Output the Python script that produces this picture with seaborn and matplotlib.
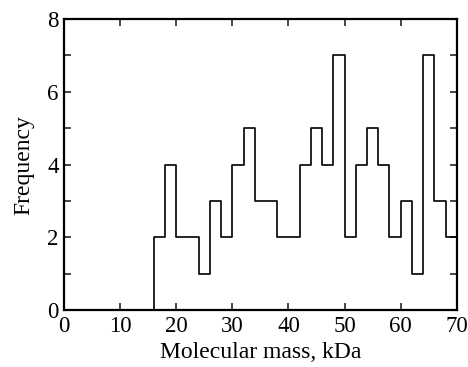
import numpy as np
import pandas as pd
import matplotlib
matplotlib.use("Agg")
import matplotlib.pyplot as plt
import seaborn as sns
from matplotlib.ticker import MultipleLocator

sns.set_style("ticks")
plt.rcParams["font.family"] = ["Liberation Serif", "DejaVu Serif"]

# bins of 2 kDa, from 16 to 70
bin_left = np.arange(16, 70, 2)
frequency = [2, 4, 2, 2, 1, 3, 2, 4, 5, 3, 3, 2, 2, 4, 5, 4, 7,
             2, 4, 5, 4, 2, 3, 1, 7, 3, 2]

df = pd.DataFrame({"mass": bin_left + 1, "count": frequency})

fig = plt.figure(figsize=(4.68, 3.67), dpi=100)
ax = fig.add_axes([0.137, 0.155, 0.839, 0.793])

sns.histplot(data=df, x="mass", weights="count", binwidth=2, binrange=(16, 70),
             element="step", fill=True, color="black", facecolor="none",
             linewidth=1.2, ax=ax)

ax.set_xlim(0, 70)
ax.set_ylim(0, 8)
ax.xaxis.set_major_locator(MultipleLocator(10))
ax.yaxis.set_major_locator(MultipleLocator(2))
ax.yaxis.set_minor_locator(MultipleLocator(1))
ax.tick_params(which="both", direction="in", top=True, right=True,
               width=1.2, length=5, labelsize=16.5, pad=4, labelcolor="black")
for s in ax.spines.values():
    s.set_linewidth(1.6)
    s.set_color("black")

ax.set_xlabel("Molecular mass, kDa", fontsize=17, labelpad=4, color="black")
ax.set_ylabel("Frequency", fontsize=17, labelpad=9, color="black")

fig.savefig("out.png", dpi=100)
